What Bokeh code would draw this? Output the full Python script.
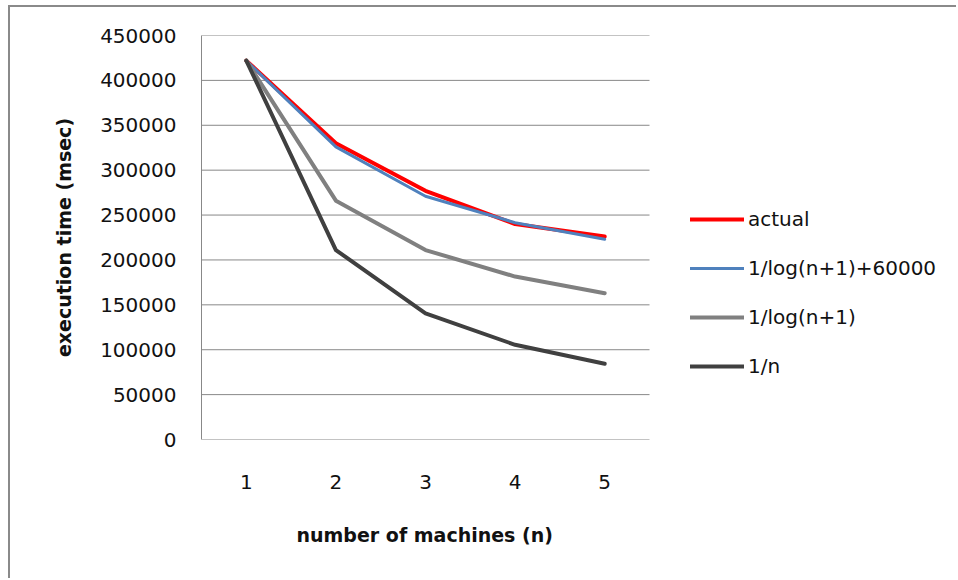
from bokeh.plotting import figure
from bokeh.models import Legend, LegendItem, FixedTicker, NumeralTickFormatter, Title
from bokeh.embed import file_html
from bokeh.resources import INLINE

# ---- data ----
machines = [1, 2, 3, 4, 5]
actual = [422000, 330000, 277000, 240000, 226000]
log_plus = [422000, 326000, 271000, 241500, 223000]
log_only = [422000, 266000, 211000, 181500, 163000]
inv_n = [422000, 211000, 140500, 105500, 84400]
series_names = ["actual", "1/log(n+1)+60000", "1/log(n+1)", "1/n"]
y_ticks = [0, 50000, 100000, 150000, 200000, 250000, 300000, 350000, 400000, 450000]

FONT = "DejaVu Sans"
GRID = "#888888"
TXT = "#111111"

W, H = 948, 573
L, T = 191, 28
FH = 404
PLOT_W = 448           # width of the plotting area proper
R = 2
FW = W - L - R         # frame also holds the legend area on the right
x_lo = machines[0] - 0.5
x_hi_plot = machines[-1] + 0.5
x_hi = x_lo + (x_hi_plot - x_lo) * FW / PLOT_W

p = figure(width=W, height=H, x_range=(x_lo, x_hi), y_range=(0, 450000),
           output_backend="svg", toolbar_location=None,
           min_border_left=L, min_border_top=T,
           min_border_right=R, min_border_bottom=H - T - FH)
p.styles = {"margin-left": "8px", "margin-top": "5px",
            "border-left": "2px solid #8a8a8a", "border-top": "2px solid #8a8a8a"}
p.outline_line_color = None
p.background_fill_color = "white"
p.border_fill_color = "white"

# axes
p.xaxis.ticker = FixedTicker(ticks=machines)
p.yaxis.ticker = FixedTicker(ticks=y_ticks)
p.yaxis.formatter = NumeralTickFormatter(format="0")
for ax in (p.xaxis[0], p.yaxis[0]):
    ax.axis_line_color = GRID
    ax.axis_line_width = 1
    ax.major_tick_line_color = None
    ax.minor_tick_line_color = None
    ax.major_tick_out = 0
    ax.major_tick_in = 0
    ax.major_label_text_font = FONT
    ax.major_label_text_font_size = "20px"
    ax.major_label_text_color = TXT
    ax.axis_label_text_font = FONT
    ax.axis_label_text_font_size = "19px"
    ax.axis_label_text_font_style = "bold"
    ax.axis_label_text_color = TXT

p.xaxis.axis_line_color = None
p.xaxis.major_label_standoff = 35
p.yaxis.axis_label = "execution time (msec)"
p.yaxis.major_label_standoff = 25
p.yaxis.axis_label_standoff = 22
p.yaxis.major_label_orientation = "horizontal"

xt = Title(text="number of machines (n)", align="left", offset=95, standoff=60,
           text_font=FONT, text_font_size="19px", text_font_style="bold",
           text_color=TXT)
p.add_layout(xt, "below")

p.xgrid.grid_line_color = None
p.ygrid.grid_line_color = None
# horizontal gridlines only across the plotting area
p.segment(x0=[x_lo] * len(y_ticks), x1=[x_hi_plot] * len(y_ticks),
          y0=y_ticks, y1=y_ticks, line_color=GRID, line_width=1)

# series
r1 = p.line(machines, actual, line_color="#FF0000", line_width=4, line_join="round", line_cap="round")
r2 = p.line(machines, log_plus, line_color="#4F81BD", line_width=3, line_join="round", line_cap="round")
r3 = p.line(machines, log_only, line_color="#808080", line_width=4, line_join="round", line_cap="round")
r4 = p.line(machines, inv_n, line_color="#404040", line_width=4, line_join="round", line_cap="round")

legend = Legend(items=[LegendItem(label=n, renderers=[r]) for n, r in
                       zip(series_names, [r1, r2, r3, r4])],
                location=(489, 61), orientation="vertical")
legend.padding = 0
legend.margin = 0
legend.border_line_color = None
legend.background_fill_alpha = 0
legend.glyph_width = 54
legend.glyph_height = 20
legend.label_height = 20
legend.label_standoff = 4
legend.spacing = 25
legend.label_text_font = FONT
legend.label_text_font_size = "20px"
legend.label_text_color = TXT
p.add_layout(legend, "center")

open("out.html", "w").write(file_html(p, INLINE))
